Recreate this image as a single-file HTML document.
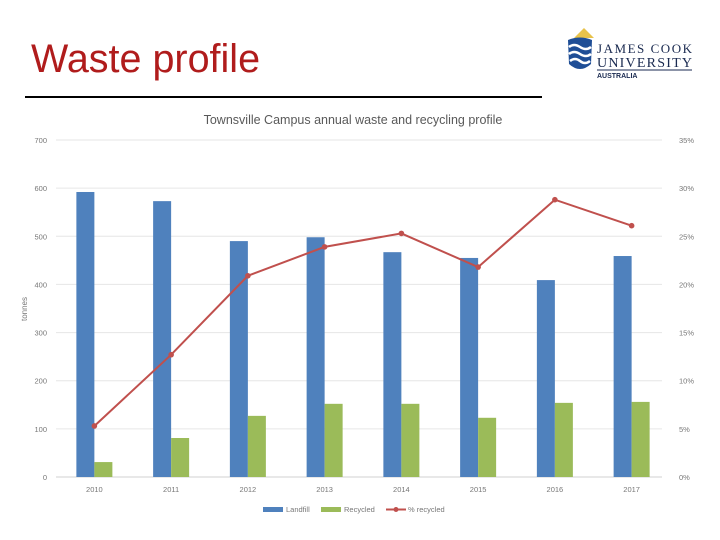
<!DOCTYPE html>
<html><head><meta charset="utf-8"><style>
body{margin:0;width:720px;height:540px;background:#fff;overflow:hidden;font-family:"Liberation Sans",sans-serif;position:relative}
#title{position:absolute;left:31px;top:37px;font-size:39.5px;color:#b01c1c}
#rule{position:absolute;left:25px;top:96px;width:517px;height:2px;background:#000}
</style></head><body>
<div id="title">Waste profile</div>
<div id="rule"></div>
<svg style="position:absolute;left:560px;top:20px" width="150" height="70">
<path d="M14 18 L24 8 L34 18 Z" fill="#e8c24a"/>
<path d="M8 20 Q20 15 32 20 L31 44 Q20 54 9 44 Z" fill="#1f4e96"/>
<path d="M9 27 Q14 23 20 27 T31 27 M9 34 Q14 30 20 34 T31 34 M10 41 Q15 37 20 41 T30 41" stroke="#fff" stroke-width="2.5" fill="none"/>
<text x="37" y="33" font-family="Liberation Serif" font-size="13" fill="#1a2a50" textLength="95">JAMES COOK</text>
<text x="37" y="47" font-family="Liberation Serif" font-size="14" fill="#1a2a50" textLength="95">UNIVERSITY</text>
<line x1="37" y1="50" x2="132" y2="50" stroke="#1a2a50"/>
<text x="37" y="58" font-size="7" fill="#1a2a50" font-weight="bold">AUSTRALIA</text>
</svg>
<svg id="chart" width="720" height="540" style="position:absolute;left:0;top:0"></svg>
<script>
const years=["2010","2011","2012","2013","2014","2015","2016","2017"];
const landfill=[592,573,490,498,467,455,409,459];
const recycled=[31,81,127,152,152,123,154,156];
const pctRecycled=[5.3,12.7,20.9,23.9,25.3,21.8,28.8,26.1];
const leftTicks=[0,100,200,300,400,500,600,700];
const rightTicks=["0%","5%","10%","15%","20%","25%","30%","35%"];
const NS="http://www.w3.org/2000/svg",svg=document.getElementById('chart');
function el(t,a,p){const e=document.createElementNS(NS,t);for(const k in a)e.setAttribute(k,a[k]);(p||svg).appendChild(e);return e;}
const x0=56,x1=670,yb=477,yt=140;
const band=(x1-x0)/years.length;
const xc=i=>x0+band*(i+0.5);
const yL=v=>yb-(v/700)*(yb-yt);
const yR=v=>yb-(v/35)*(yb-yt);
let t=el('text',{x:353,y:124,'text-anchor':'middle','font-size':12.5,fill:'#595959'});t.textContent="Townsville Campus annual waste and recycling profile";

leftTicks.forEach((v,i)=>{
 const g=el('line',{x1:x0,x2:x1-8,y1:yL(v),y2:yL(v),stroke:v?'#e6e6e6':'#d0d0d0'});
 
 const a=el('text',{x:47,y:yL(v)+3,'text-anchor':'end','font-size':7.5,fill:'#777'});a.textContent=v;
 
 const b=el('text',{x:679,y:yL(v)+3,'font-size':7.5,fill:'#777'});b.textContent=rightTicks[i];
 
});
t=el('text',{x:27,y:309,'font-size':8,fill:'#777','text-anchor':'middle',transform:'rotate(-90 27 309)'});t.textContent="tonnes";

const bw=18;
years.forEach((y,i)=>{
 let r=el('rect',{x:xc(i)-bw,y:yL(landfill[i]),width:bw,height:yb-yL(landfill[i]),fill:'#4f81bd'});
 
 r=el('rect',{x:xc(i),y:yL(recycled[i]),width:bw,height:yb-yL(recycled[i]),fill:'#9bbb59'});
 
 const l=el('text',{x:xc(i),y:492,'text-anchor':'middle','font-size':7.5,fill:'#777'});l.textContent=y;
 
});
const pl=el('polyline',{points:pctRecycled.map((v,i)=>xc(i)+','+yR(v)).join(' '),fill:'none',stroke:'#c0504d','stroke-width':2});

pctRecycled.forEach((v,i)=>{const c=el('circle',{cx:xc(i),cy:yR(v),r:2.8,fill:'#c0504d'});
 });
const lg=el('g',{});

el('rect',{x:263,y:507,width:20,height:5,fill:'#4f81bd'},lg);
t=el('text',{x:286,y:512,'font-size':7.5,fill:'#777'},lg);t.textContent="Landfill";
el('rect',{x:321,y:507,width:20,height:5,fill:'#9bbb59'},lg);
t=el('text',{x:344,y:512,'font-size':7.5,fill:'#777'},lg);t.textContent="Recycled";
el('line',{x1:386,x2:406,y1:509.5,y2:509.5,stroke:'#c0504d','stroke-width':2},lg);
el('circle',{cx:396,cy:509.5,r:2.5,fill:'#c0504d'},lg);
t=el('text',{x:408,y:512,'font-size':7.5,fill:'#777'},lg);t.textContent="% recycled";
</script>
</body></html>
